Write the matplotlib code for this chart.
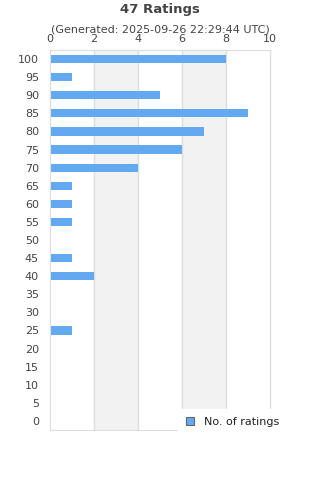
import matplotlib
matplotlib.use("Agg")
import matplotlib.pyplot as plt
from matplotlib.patches import Patch

categories = ["100", "95", "90", "85", "80", "75", "70", "65", "60", "55", "50",
              "45", "40", "35", "30", "25", "20", "15", "10", "5", "0"]
counts = [8, 1, 5, 9, 7, 6, 4, 1, 1, 1, 0, 1, 2, 0, 0, 1, 0, 0, 0, 0, 0]
xticks = [0, 2, 4, 6, 8, 10]

fig = plt.figure(figsize=(3.2, 4.8), dpi=100)
ax = fig.add_axes([50/320, 1-430/480, 220/320, 380/480])

ypos = list(range(len(categories)))
ax.set_ylim(len(categories)-0.5, -0.5)
ax.set_xlim(0, 10)
for a, b in [(2, 4), (6, 8)]:
    ax.axvspan(a, b, color="#f2f2f2", zorder=0, lw=0)
for x in xticks[1:]:
    ax.axvline(x, color="#dddddd", lw=1.0, zorder=1, clip_on=False)
ax.barh(ypos, counts, height=0.45, color="#62a9f2", zorder=2)

ax.set_yticks(ypos)
ax.set_yticklabels(categories)
ax.set_xticks(xticks)
ax.xaxis.tick_top()
ax.tick_params(axis="both", length=0, labelsize=8, labelcolor="#444444")
ax.tick_params(axis="x", pad=4)
ax.tick_params(axis="y", pad=8)
for s in ax.spines.values():
    s.set_color("#dddddd")
ax.spines["right"].set_visible(False)

fig.text(0.5, 1-10/480, "47 Ratings", ha="center", va="center",
         fontsize=9.5, fontweight="bold", color="#444444")
fig.text(0.5, 1-30/480, "(Generated: 2025-09-26 22:29:44 UTC)", ha="center",
         va="center", fontsize=8, color="#444444")

leg = fig.legend(handles=[Patch(facecolor="#62a9f2", edgecolor="#666666", lw=0.8)],
                 labels=["No. of ratings"], loc="center left",
                 bbox_to_anchor=(178/320, 1-422/480), frameon=True,
                 fontsize=8, handlelength=0.7, handleheight=0.7,
                 handletextpad=0.9, borderpad=0.75, borderaxespad=0,
                 fancybox=False, labelcolor="#222222")
leg.get_frame().set_edgecolor("white")
leg.get_frame().set_facecolor("white")
leg.get_frame().set_alpha(1)
leg.set_zorder(10)

fig.savefig("out.png", dpi=100)
